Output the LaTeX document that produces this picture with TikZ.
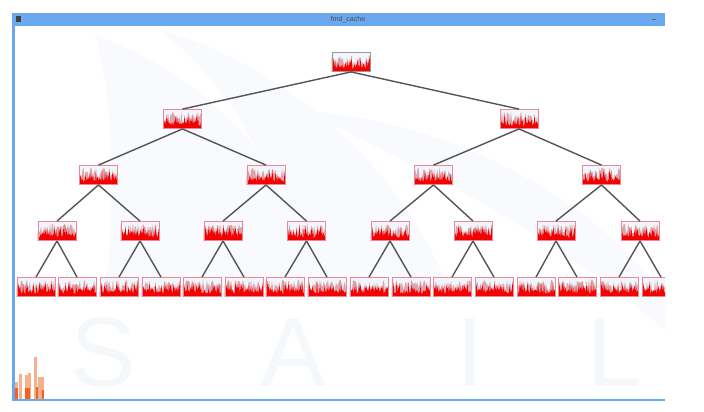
\documentclass[tikz,border=0pt]{standalone}
\usepackage{fontspec}
\setmainfont{Liberation Sans}
\definecolor{winblue}{HTML}{6AA9EF}
\definecolor{boxedge}{HTML}{E58A96}
\definecolor{rootedge}{HTML}{9A9A9A}
\definecolor{boxfill}{HTML}{F1F6FC}
\definecolor{histred}{HTML}{F40000}
\definecolor{histpale}{HTML}{DBA3AA}
\definecolor{linkgray}{HTML}{555555}
\definecolor{wmark}{HTML}{F5F8FB}
\definecolor{sailfaint}{HTML}{F8FAFD}
\definecolor{barlight}{HTML}{F7B08C}
\definecolor{bardark}{HTML}{F0621E}

% random spiky chart inside each box
\newcommand\histbars{%
  \begin{scope}[shift={(path picture bounding box.center)}]
    \fill[histpale] (-20,10) \foreach \k in {0,...,38}{ -- ({-19+\k},{9.5-4-rnd*13}) } -- (20,10) -- cycle;
    \fill[histred] (-20,10) \foreach \k in {0,...,25}{ -- ({-19+1.5*\k},{9.5-3-rnd*13}) -- ({-18.25+1.5*\k},{9.5-2-rnd*5}) } -- (20,10) -- cycle;
  \end{scope}}

\begin{document}
\begin{tikzpicture}[x=0.025cm,y=-0.025cm,
    histnode/.style={draw=boxedge, fill=boxfill, line width=0.6pt, inner sep=0pt,
      minimum width=0.95cm, minimum height=0.475cm, path picture={\histbars}},
    link/.style={draw=linkgray, line width=1pt}]
    \pgfmathsetseed{11}
    \useasboundingbox (0,0) rectangle (704,412);

    % Window frame
    \fill[winblue] (12,13) rectangle (665,26);
    \fill[winblue] (12,26) rectangle (14.5,401);
    \fill[winblue] (12,398.5) rectangle (665,401);
    \fill[black!75] (15.5,16) rectangle (20.5,22);
    \draw[black!60, line width=0.6pt] (652,19) -- (656,19);
    \node[font=\fontsize{5}{6}\selectfont, text=black!70] (title) at (348,19.5) {fmd\_cache};

    \begin{scope}
    \clip (14.5,26) rectangle (665,398.5);

    % Watermark
    \fill[sailfaint] (95,35) .. controls (118,120) and (112,220) .. (106,300) -- (330,300) .. controls (300,180) and (220,80) .. (95,35);
    \fill[sailfaint] (160,30) .. controls (270,60) and (390,150) .. (445,280) -- (300,290) .. controls (280,170) and (235,90) .. (160,30);
    \fill[sailfaint] (300,110) .. controls (450,120) and (600,200) .. (665,300) -- (665,330) .. controls (560,240) and (430,170) .. (300,110);
    \node[font=\fontsize{70}{70}\selectfont, text=wmark] (wS) at (103,353) {S};
    \node[font=\fontsize{70}{70}\selectfont, text=wmark] (wA) at (293,353) {A};
    \node[font=\fontsize{70}{70}\selectfont, text=wmark] (wI) at (470,353) {I};
    \node[font=\fontsize{70}{70}\selectfont, text=wmark] (wL) at (615,353) {L};

    % Tree
    \node[histnode, draw=rootedge] (root) at (351,62) {};
    \foreach \x [count=\i] in {182.5,519}
      \node[histnode] (a\i) at (\x,119) {};
    \foreach \x [count=\i] in {98.5,266,433.5,601.5}
      \node[histnode] (b\i) at (\x,175) {};
    \foreach \x [count=\i] in {57,140,223,306.5,390,473,556,640}
      \node[histnode] (c\i) at (\x,231) {};
    \foreach \x [count=\i] in {36,77,119,161,202,244,285,327,369,411,452,494,536,577,619,661}
      \node[histnode] (d\i) at (\x,287) {};

    \draw[link] (root.south) -- (a1.north) (root.south) -- (a2.north);
    \foreach \p/\q/\n in {a/b/2,b/c/4,c/d/8}
      \foreach \i in {1,...,\n}{
        \pgfmathtruncatemacro\ja{2*\i-1}
        \pgfmathtruncatemacro\jb{2*\i}
        \draw[link] (\p\i.south) -- (\q\ja.north) (\p\i.south) -- (\q\jb.north);
      }

    % Small bars bottom left
    \fill[barlight] (14.5,382) rectangle (17.5,399);
    \fill[barlight] (19,374) rectangle (22,399);
    \fill[barlight] (25,375) rectangle (28,399);
    \fill[barlight] (28,373) rectangle (31,399);
    \fill[barlight] (34,357) rectangle (37,399);
    \fill[barlight] (38,377) rectangle (41,399);
    \fill[barlight] (41,377) rectangle (44,399);
    \fill[bardark] (14.5,388) rectangle (18,399);
    \fill[bardark] (25,388) rectangle (30,399);
    \fill[bardark] (36,387) rectangle (38,399);
    \fill[bardark] (42,390) rectangle (43.5,399);
    \end{scope}
\end{tikzpicture}
\end{document}
